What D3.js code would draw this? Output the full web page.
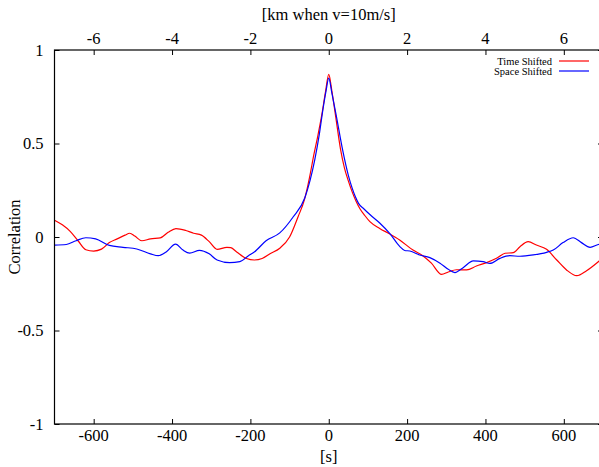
<!DOCTYPE html>
<html>
<head>
<meta charset="utf-8">
<script src="https://cdn.jsdelivr.net/npm/d3@7"></script>
<style>
  body { margin: 0; background: #fff; }
  svg text { font-family: "Liberation Serif", "DejaVu Serif", serif; fill: #000; }
</style>
</head>
<body>
<div id="chart"></div>
<script>
// lag [s] vs correlation
const timeShifted = [
  [-700, 0.09], [-680, 0.065], [-660, 0.03], [-640, -0.02], [-620, -0.068], [-600, -0.075],
  [-580, -0.065], [-560, -0.03], [-540, -0.01], [-520, 0.01], [-508, 0.02], [-495, 0.005],
  [-477, -0.02], [-455, -0.01], [-430, -0.005], [-410, 0.025], [-390, 0.045], [-365, 0.035],
  [-345, 0.02], [-325, 0.01], [-305, -0.025], [-285, -0.066], [-260, -0.055], [-250, -0.057],
  [-235, -0.08], [-210, -0.115], [-190, -0.123], [-170, -0.115], [-150, -0.09], [-125, -0.06],
  [-100, 0.0], [-78, 0.11], [-62, 0.2], [-55, 0.26], [-48, 0.33], [-38, 0.44], [-28, 0.54],
  [-18, 0.65], [-8, 0.78], [0, 0.87], [8, 0.78], [18, 0.64], [30, 0.47], [40, 0.37],
  [50, 0.3], [60, 0.24], [70, 0.19], [80, 0.15], [92, 0.115], [105, 0.082], [130, 0.046],
  [156, 0.016], [181, -0.016], [215, -0.07], [240, -0.1], [262, -0.14], [288, -0.2],
  [305, -0.187], [326, -0.175], [352, -0.176], [377, -0.155], [403, -0.137], [428, -0.114],
  [450, -0.087], [471, -0.084], [488, -0.052], [509, -0.025], [530, -0.043], [556, -0.066],
  [582, -0.123], [607, -0.176], [633, -0.207], [658, -0.18], [688, -0.132], [700, -0.11]
];

const spaceShifted = [
  [-700, -0.043], [-670, -0.04], [-645, -0.02], [-620, -0.004], [-595, -0.01], [-560, -0.045],
  [-525, -0.055], [-490, -0.064], [-455, -0.09], [-435, -0.1], [-415, -0.08], [-391, -0.038],
  [-372, -0.07], [-355, -0.086], [-330, -0.071], [-305, -0.09], [-285, -0.123], [-253, -0.137],
  [-227, -0.132], [-205, -0.1], [-190, -0.08], [-160, -0.02], [-125, 0.022], [-91, 0.107],
  [-61, 0.21], [-48, 0.3], [-36, 0.41], [-24, 0.55], [-15, 0.68], [-7, 0.78], [0, 0.85],
  [8, 0.77], [20, 0.64], [35, 0.47], [50, 0.33], [60, 0.26], [68, 0.215], [76, 0.18],
  [90, 0.15], [105, 0.12], [130, 0.075], [156, 0.018], [181, -0.05], [194, -0.072],
  [207, -0.075], [232, -0.096], [258, -0.11], [284, -0.14], [305, -0.173], [322, -0.19],
  [343, -0.164], [369, -0.128], [394, -0.132], [411, -0.141], [437, -0.114], [462, -0.1],
  [488, -0.103], [522, -0.096], [556, -0.082], [573, -0.07], [598, -0.03], [624, -0.004],
  [645, -0.03], [667, -0.055], [688, -0.04], [700, -0.035]
];

const xTicks = [-600, -400, -200, 0, 200, 400, 600];
const kmTicks = [-6, -4, -2, 0, 2, 4, 6];
const yTicks = [-1, -0.5, 0, 0.5, 1];
const seriesNames = ['Time Shifted', 'Space Shifted'];
const seriesColors = ['#ff0000', '#0000ff'];

const W = 599, H = 467;
const margin = { top: 50, right: -4, bottom: 43, left: 54.5 };
const width = W - margin.left - margin.right;
const height = H - margin.top - margin.bottom;
const fontSize = '16.5px';

const svg = d3.select('#chart').append('svg')
  .attr('width', W)
  .attr('height', H);

const g = svg.append('g')
  .attr('transform', `translate(${margin.left},${margin.top})`);

const x = d3.scaleLinear().domain([-700, 700]).range([0, width]);
const xKm = d3.scaleLinear().domain([-7, 7]).range([0, width]);
const y = d3.scaleLinear().domain([-1, 1]).range([height, 0]);

// ticks inside the frame (gnuplot style)
const tickLen = 5;

const bottomAxis = g.append('g')
  .attr('transform', `translate(0,${height})`)
  .call(d3.axisTop(x).tickValues(xTicks).tickSize(tickLen).tickFormat(''));
bottomAxis.select('.domain').remove();

g.selectAll('.xlab')
  .data(xTicks)
  .enter().append('text')
  .attr('x', d => x(d))
  .attr('y', height + 16.5)
  .attr('text-anchor', 'middle')
  .style('font-size', fontSize)
  .text(d => d);

const topAxis = g.append('g')
  .call(d3.axisBottom(xKm).tickValues(kmTicks).tickSize(tickLen).tickFormat(''));
topAxis.select('.domain').remove();

g.selectAll('.kmlab')
  .data(kmTicks)
  .enter().append('text')
  .attr('x', d => xKm(d))
  .attr('y', -6.5)
  .attr('text-anchor', 'middle')
  .style('font-size', fontSize)
  .text(d => d);

const leftAxis = g.append('g')
  .call(d3.axisRight(y).tickValues(yTicks).tickSize(tickLen).tickFormat(''));
leftAxis.select('.domain').remove();

const rightAxis = g.append('g')
  .attr('transform', `translate(${width},0)`)
  .call(d3.axisLeft(y).tickValues(yTicks).tickSize(tickLen).tickFormat(''));
rightAxis.select('.domain').remove();

g.selectAll('.ylab')
  .data(yTicks)
  .enter().append('text')
  .attr('x', -11)
  .attr('y', d => y(d))
  .attr('dy', '0.35em')
  .attr('text-anchor', 'end')
  .style('font-size', fontSize)
  .text(d => d);

g.selectAll('.tick line').attr('stroke', '#000');

// curves
g.append('clipPath').attr('id', 'clip')
  .append('rect').attr('width', width).attr('height', height);

const line = d3.line()
  .x(d => x(d[0]))
  .y(d => y(d[1]))
  .curve(d3.curveMonotoneX);

[timeShifted, spaceShifted].forEach((data, i) => {
  g.append('path')
    .datum(data)
    .attr('clip-path', 'url(#clip)')
    .attr('fill', 'none')
    .attr('stroke', seriesColors[i])
    .attr('stroke-width', 1.2)
    .attr('d', line);
});

// frame
g.append('rect')
  .attr('width', width)
  .attr('height', height)
  .attr('fill', 'none')
  .attr('stroke', '#000')
  .attr('stroke-width', 1.2);

// legend
const legend = g.append('g')
  .attr('transform', `translate(${width - 51},${11})`);
seriesNames.forEach((name, i) => {
  legend.append('text')
    .attr('x', 0)
    .attr('y', i * 10)
    .attr('dy', '0.35em')
    .attr('text-anchor', 'end')
    .style('font-size', '10.5px')
    .text(name);
  legend.append('line')
    .attr('x1', 7).attr('x2', 37)
    .attr('y1', i * 10).attr('y2', i * 10)
    .attr('stroke', seriesColors[i])
    .attr('stroke-width', 1.2);
});

// axis titles
svg.append('text')
  .attr('x', margin.left + x(0))
  .attr('y', 20)
  .attr('text-anchor', 'middle')
  .style('font-size', fontSize)
  .text('[km when v=10m/s]');

svg.append('text')
  .attr('x', margin.left + x(0))
  .attr('y', 462)
  .attr('text-anchor', 'middle')
  .style('font-size', fontSize)
  .text('[s]');

svg.append('text')
  .attr('transform', `translate(20,${margin.top + y(0)}) rotate(-90)`)
  .attr('text-anchor', 'middle')
  .style('font-size', fontSize)
  .text('Correlation');
</script>
</body>
</html>
